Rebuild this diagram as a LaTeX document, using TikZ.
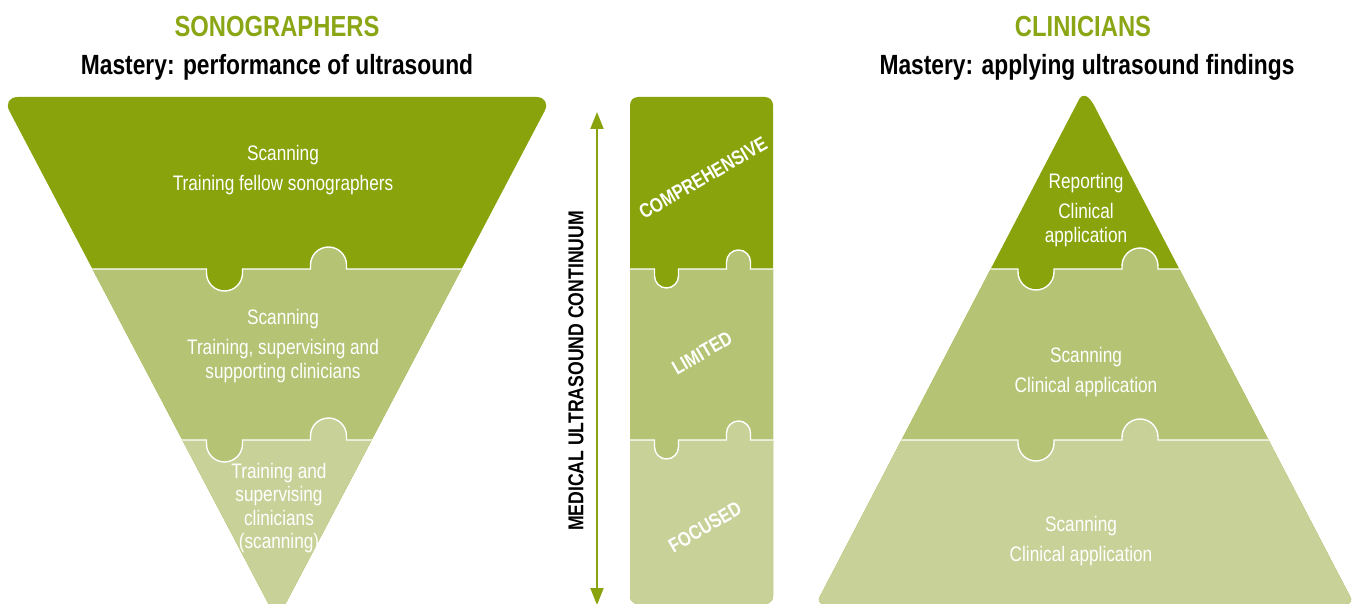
\documentclass[tikz,border=0pt]{standalone}
\usepackage{fontspec}
\setmainfont{Liberation Sans}[FakeStretch=0.82]
\usetikzlibrary{arrows.meta}

\definecolor{leafdark}{HTML}{88A30C}
\definecolor{leafmid}{HTML}{B4C374}
\definecolor{leaflight}{HTML}{C8D198}
\definecolor{headgreen}{HTML}{8AA614}

% Jigsaw seam: straight edge with a notch (down) and a knob (up)
% #1 left x, #2 right x, #3 y, #4 notch centre, #5 knob centre, #6 radius, #7 stem
\newcommand\puzzleedge[7]{%
  (#1,#3) -- ({#4-#6},#3) -- ({#4-#6},{#3-#7})
  arc[start angle=180,end angle=360,radius=#6pt] -- ({#4+#6},#3)
  -- ({#5-#6},#3) -- ({#5-#6},{#3+#7})
  arc[start angle=180,end angle=0,radius=#6pt] -- ({#5+#6},#3)
  -- (#2,#3)}

\begin{document}
\begin{tikzpicture}[x=1pt,y=1pt,
  seam/.style={draw=white,line width=1.4pt},
  bandtext/.style={text=white,align=center,font=\fontsize{21}{23.5}\selectfont,inner sep=0pt},
  head/.style={text=headgreen,font=\bfseries\fontsize{29}{31}\selectfont,inner sep=0pt,anchor=base},
  subhead/.style={text=black,font=\bfseries\fontsize{27.8}{30}\selectfont,inner sep=0pt,anchor=base},
  tier/.style={text=white,font=\bfseries\fontsize{20}{22}\selectfont,rotate=30,inner sep=0pt},
  >={Triangle[width=13pt,length=17pt]},
]
\useasboundingbox (0,0) rectangle (1356,-604);

% ---------- headings ----------
\node[head] (sonoHead) at (277,-37) {SONOGRAPHERS};
\node[subhead] (sonoSub) at (277,-75) {Mastery: performance of ultrasound};
\node[head] (clinHead) at (1083,-37) {CLINICIANS};
\node[subhead] (clinSub) at (1087,-75) {Mastery: applying ultrasound findings};

% ---------- inverted triangle (sonographers) ----------
\begin{scope}
  \clip[rounded corners=16pt] (2,-97) -- (552,-97) -- (277,-620) -- cycle;
  \fill[leafdark] (-10,-80) rectangle (570,-640);
  \fill[leafmid] \puzzleedge{-10}{570}{-269}{224.5}{328.5}{18}{4} -- (570,-640) -- (-10,-640) -- cycle;
  \fill[leaflight] \puzzleedge{-10}{570}{-440}{224.5}{328.5}{18}{4} -- (570,-640) -- (-10,-640) -- cycle;
  \draw[seam] \puzzleedge{-10}{570}{-269}{224.5}{328.5}{18}{4};
  \draw[seam] \puzzleedge{-10}{570}{-440}{224.5}{328.5}{18}{4};
\end{scope}
\node[bandtext] (sonoTop) at (283,-170) {Scanning\\[6.5pt]Training fellow sonographers};
\node[bandtext] (sonoMid) at (283,-346) {Scanning\\[6.5pt]Training, supervising and\\supporting clinicians};
\node[bandtext] (sonoLow) at (279,-508) {Training and\\supervising\\clinicians\\(scanning)};

% ---------- continuum arrow ----------
\coordinate (contTop) at (597,-112);
\coordinate (contBot) at (597,-605);
\draw[leafdark,line width=2pt,<->] (contBot) -- (contTop);
\node[rotate=90,font=\bfseries\fontsize{21.5}{23}\selectfont,inner sep=0pt] (continuum) at (576,-371) {MEDICAL ULTRASOUND CONTINUUM};

% ---------- column of levels ----------
\begin{scope}
  \clip[rounded corners=8pt] (630,-97) rectangle (773,-604);
  \fill[leafdark] (620,-80) rectangle (790,-640);
  \fill[leafmid] \puzzleedge{620}{790}{-269}{666.5}{738.5}{12}{7} -- (790,-640) -- (620,-640) -- cycle;
  \fill[leaflight] \puzzleedge{620}{790}{-440}{666.5}{738.5}{12}{7} -- (790,-640) -- (620,-640) -- cycle;
  \draw[seam] \puzzleedge{620}{790}{-269}{666.5}{738.5}{12}{7};
  \draw[seam] \puzzleedge{620}{790}{-440}{666.5}{738.5}{12}{7};
\end{scope}
\node[tier] (comprehensive) at (703,-178) {COMPREHENSIVE};
\node[tier] (limited) at (702,-353) {LIMITED};
\node[tier] (focused) at (705,-527) {FOCUSED};

% ---------- pyramid (clinicians) ----------
\begin{scope}
  \clip (1075.8,-105.7) .. controls (1081.9,-93.9) and (1088.1,-93.9) .. (1094.2,-105.7)
    [rounded corners=8pt] -- (1354,-604) -- (816,-604) -- cycle;
  \fill[leafdark] (800,-80) rectangle (1370,-640);
  \fill[leafmid] \puzzleedge{800}{1370}{-269}{1036}{1140}{18}{3} -- (1370,-640) -- (800,-640) -- cycle;
  \fill[leaflight] \puzzleedge{800}{1370}{-440}{1036}{1140}{18}{3} -- (1370,-640) -- (800,-640) -- cycle;
  \draw[seam] \puzzleedge{800}{1370}{-269}{1036}{1140}{18}{3};
  \draw[seam] \puzzleedge{800}{1370}{-440}{1036}{1140}{18}{3};
\end{scope}
\node[bandtext] (clinTop) at (1086,-210) {Reporting\\[6.5pt]Clinical\\application};
\node[bandtext] (clinMid) at (1086,-372) {Scanning\\[7pt]Clinical application};
\node[bandtext] (clinLow) at (1081,-541) {Scanning\\[7pt]Clinical application};

\end{tikzpicture}
\end{document}
